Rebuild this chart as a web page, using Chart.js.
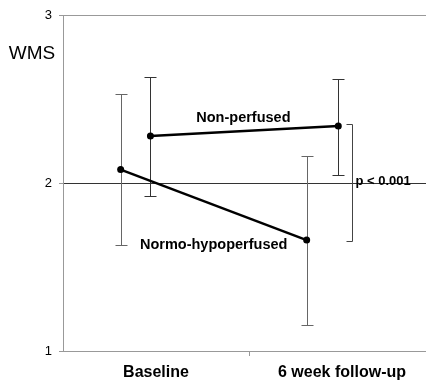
<!DOCTYPE html>
<html>
<head>
<meta charset="utf-8">
<script src="https://cdn.jsdelivr.net/npm/chart.js@4/dist/chart.umd.min.js"></script>
<style>
  html, body { margin: 0; padding: 0; background: #fff; }
  canvas { display: block; }
</style>
</head>
<body>
<canvas id="wmsChart" width="426" height="382"></canvas>
<script>
// Group means and error bar ends (WMS)
const categories = ['Baseline', '6 week follow-up'];
const normoX = [-0.19, 0.81];
const normoMean = [2.08, 1.66];
const normoUpper = [2.53, 2.16];
const normoLower = [1.63, 1.155];
const nonX = [-0.03, 0.98];
const nonMean = [2.28, 2.34];
const nonUpper = [2.63, 2.62];
const nonLower = [1.92, 2.05];
const yTicks = [1, 2, 3];

const FONT = "'Liberation Sans', Arial, Helvetica, sans-serif";

function toPoints(xs, ys) {
  return xs.map((x, i) => ({ x: x, y: ys[i] }));
}

// vertical error bars with caps, drawn under the lines
const errorBars = {
  id: 'errorBars',
  beforeDatasetsDraw(chart) {
    const { ctx, scales: { x, y } } = chart;
    const groups = [
      { xs: normoX, hi: normoUpper, lo: normoLower, color: '#666' },
      { xs: nonX, hi: nonUpper, lo: nonLower, color: '#333' }
    ];
    ctx.save();
    ctx.lineWidth = 1;
    groups.forEach(g => {
      ctx.strokeStyle = g.color;
      g.xs.forEach((v, i) => {
        const px = Math.round(x.getPixelForValue(v)) + 0.5;
        const top = Math.round(y.getPixelForValue(g.hi[i])) + 0.5;
        const bot = Math.round(y.getPixelForValue(g.lo[i])) + 0.5;
        ctx.beginPath();
        ctx.moveTo(px, top); ctx.lineTo(px, bot);
        ctx.moveTo(px - 6, top); ctx.lineTo(px + 6, top);
        ctx.moveTo(px - 6, bot); ctx.lineTo(px + 6, bot);
        ctx.stroke();
      });
    });
    ctx.restore();
  }
};

// axis title, series names and the significance bracket
const annotations = {
  id: 'annotations',
  afterDraw(chart) {
    const { ctx, scales: { x, y } } = chart;
    ctx.save();
    ctx.fillStyle = '#000';
    ctx.textBaseline = 'middle';

    ctx.font = '19px ' + FONT;
    ctx.textAlign = 'center';
    ctx.fillText('WMS', 32, 54);

    ctx.font = 'bold 14.5px ' + FONT;
    ctx.fillText('Non-perfused', x.getPixelForValue(0.47), y.getPixelForValue(2.385));
    ctx.fillText('Normo-hypoperfused', x.getPixelForValue(0.31), y.getPixelForValue(1.63));

    // bracket between the two follow-up means
    const bx = Math.round(x.getPixelForValue(nonX[1])) + 14.5;
    const bt = Math.round(y.getPixelForValue(nonMean[1])) - 1.5;
    const bb = Math.round(y.getPixelForValue(normoMean[1])) + 1.5;
    ctx.strokeStyle = '#444';
    ctx.lineWidth = 1;
    ctx.beginPath();
    ctx.moveTo(bx - 6, bt); ctx.lineTo(bx, bt); ctx.lineTo(bx, bb); ctx.lineTo(bx - 6, bb);
    ctx.stroke();

    ctx.font = 'bold 13px ' + FONT;
    ctx.textAlign = 'left';
    ctx.fillText('p < 0.001', bx + 3, y.getPixelForValue(2.01));
    ctx.restore();
  }
};

new Chart(document.getElementById('wmsChart'), {
  type: 'line',
  data: {
    datasets: [
      {
        label: 'Normo-hypoperfused',
        data: toPoints(normoX, normoMean),
        borderColor: '#000',
        backgroundColor: '#000',
        borderWidth: 2.5,
        pointRadius: 3.5,
        pointBorderWidth: 0
      },
      {
        label: 'Non-perfused',
        data: toPoints(nonX, nonMean),
        borderColor: '#000',
        backgroundColor: '#000',
        borderWidth: 2.5,
        pointRadius: 3.5,
        pointBorderWidth: 0
      }
    ]
  },
  options: {
    responsive: false,
    animation: false,
    // plot runs right up to the canvas edge
    layout: { autoPadding: false, padding: { top: 15, right: 0, left: 0, bottom: 0 } },
    plugins: {
      legend: { display: false },
      tooltip: { enabled: false }
    },
    scales: {
      x: {
        type: 'linear',
        min: -0.5,
        max: 1.4516,
        afterBuildTicks: (scale) => {
          scale.ticks = [{ value: 0 }, { value: 0.5 }, { value: 1 }];
        },
        afterFit: (scale) => { scale.height = 31; },
        border: { color: '#999', width: 1 },
        grid: {
          drawOnChartArea: false,
          tickLength: 5,
          tickColor: (c) => (c.tick && c.tick.value === 0.5 ? '#999' : 'rgba(0,0,0,0)')
        },
        ticks: {
          autoSkip: false,
          maxRotation: 0,
          padding: 7,
          color: '#000',
          font: { family: FONT, size: 16, weight: 'bold' },
          callback: (v) => (v === 0 ? categories[0] : v === 1 ? categories[1] : '')
        }
      },
      y: {
        min: 1,
        max: 3,
        afterBuildTicks: (scale) => {
          scale.ticks = yTicks.map(v => ({ value: v }));
        },
        afterFit: (scale) => { scale.width = 63; },
        border: { color: '#999', width: 1 },
        grid: {
          tickLength: 4,
          color: (c) => (c.tick && c.tick.value === 2 ? '#333' : '#999'),
          tickColor: '#999'
        },
        ticks: {
          padding: 7,
          color: '#000',
          font: { family: FONT, size: 13 }
        }
      }
    }
  },
  plugins: [errorBars, annotations]
});
</script>
</body>
</html>
